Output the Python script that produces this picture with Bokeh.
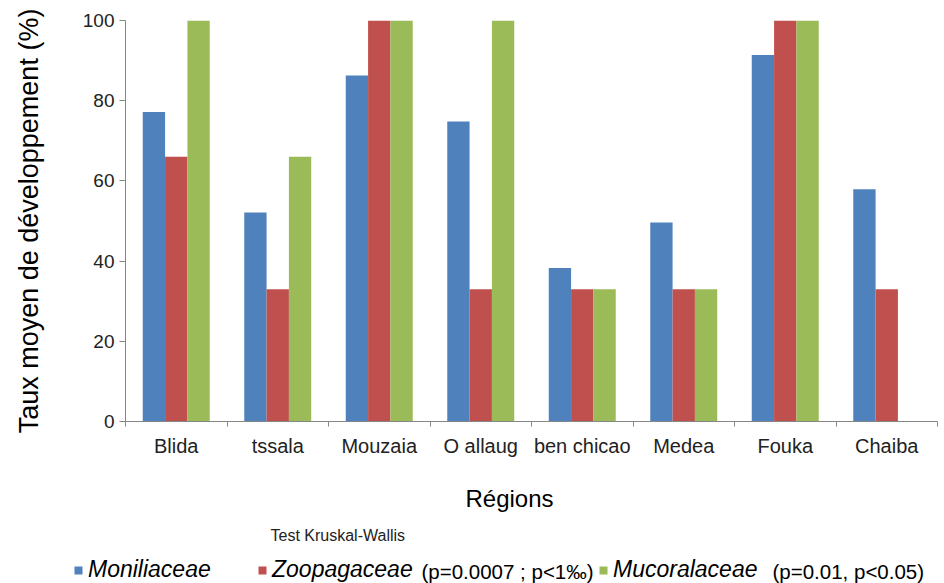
from bokeh.plotting import figure
from bokeh.layouts import column
from bokeh.models import (ColumnDataSource, FixedTicker, Label, Legend, LegendItem,
                          Range1d)
from bokeh.transform import dodge
from bokeh.embed import file_html
from bokeh.resources import INLINE

# Mean development rate (%) per region and fungal family
regions = ["Blida", "tssala", "Mouzaia", "O allaug", "ben chicao", "Medea", "Fouka", "Chaiba"]
moniliaceae = [77.2, 52.1, 86.3, 74.8, 38.3, 49.6, 91.4, 57.9]
zoopagaceae = [66.0, 33.0, 100.0, 33.0, 33.0, 33.0, 100.0, 33.0]
mucoralaceae = [100.0, 66.0, 100.0, 100.0, 33.0, 33.0, 100.0, 0.0]
y_ticks = [0, 20, 40, 60, 80, 100]

families = ["Moniliaceae", "Zoopagaceae", "Mucoralaceae"]
p_values = ["", "(p=0.0007 ; p<1\u2030)", "(p=0.01, p<0.05)"]
colors = ["#4F81BD", "#C0504D", "#9BBB59"]
series = ["moniliaceae", "zoopagaceae", "mucoralaceae"]

FONT = "Liberation Sans"
AXIS_GREY = "#868686"
TEXT = "#222222"

W = 944
MAIN_H = 470
FOOT_H = 113

centers = [i + 0.5 for i in range(len(regions))]
source = ColumnDataSource(dict(x=centers, moniliaceae=moniliaceae,
                               zoopagaceae=zoopagaceae, mucoralaceae=mucoralaceae))


def no_frame_align(fig):
    if "frame_align" in fig.properties():
        fig.frame_align = False


# ---- bar chart ----
p = figure(width=W, height=MAIN_H, output_backend="svg", toolbar_location=None,
           x_range=Range1d(0, len(regions)), y_range=Range1d(0, 100),
           min_border_left=125, min_border_right=7, min_border_top=20,
           min_border_bottom=49)
no_frame_align(p)
p.outline_line_color = None
p.xgrid.grid_line_color = None
p.ygrid.grid_line_color = None

bar_w = 0.22
for k, (col, color) in enumerate(zip(series, colors)):
    p.vbar(x=dodge("x", (k - 1) * bar_w, range=p.x_range), top=col, bottom=0,
           width=bar_w, source=source, fill_color=color, line_color=None)

# x axis: region names at the centres, tick marks at the boundaries
xa = p.xaxis[0]
xa.ticker = FixedTicker(ticks=centers, minor_ticks=list(range(len(regions) + 1)))
xa.major_label_overrides = {c: name for c, name in zip(centers, regions)}
xa.major_tick_line_color = None
xa.major_tick_out = 5
xa.major_tick_in = 0
xa.minor_tick_line_color = AXIS_GREY
xa.minor_tick_out = 5
xa.minor_tick_in = 0
xa.axis_line_color = AXIS_GREY
xa.major_label_standoff = 8
xa.major_label_text_font = FONT
xa.major_label_text_font_size = "20px"
xa.major_label_text_color = TEXT

ya = p.yaxis[0]
ya.ticker = FixedTicker(ticks=y_ticks, minor_ticks=[])
ya.axis_line_color = AXIS_GREY
ya.major_tick_line_color = AXIS_GREY
ya.major_tick_out = 6
ya.major_tick_in = 0
ya.major_label_standoff = 5
ya.major_label_text_font = FONT
ya.major_label_text_font_size = "19px"
ya.major_label_text_color = TEXT
ya.axis_label = "Taux moyen de développement (%)"
ya.axis_label_text_font = FONT
ya.axis_label_text_font_size = "27px"
ya.axis_label_text_font_style = "normal"
ya.axis_label_text_color = "#000000"
ya.axis_label_standoff = 36

# ---- footer: axis title, test note and legend (pixel coordinates) ----
foot = figure(width=W, height=FOOT_H, output_backend="svg", toolbar_location=None,
              x_range=Range1d(0, W), y_range=Range1d(0, FOOT_H),
              x_axis_location=None, y_axis_location=None,
              min_border=0, min_border_left=0, min_border_right=0,
              min_border_top=0, min_border_bottom=0)
no_frame_align(foot)
foot.outline_line_color = None
foot.xgrid.grid_line_color = None
foot.ygrid.grid_line_color = None

foot.add_layout(Label(x=509, y=85, text="Régions", text_font=FONT,
                      text_font_size="24px", text_color="#000000",
                      text_align="center", text_baseline="middle"))
foot.add_layout(Label(x=270, y=48, text="Test Kruskal-Wallis", text_font=FONT,
                      text_font_size="16px", text_color=TEXT,
                      text_align="left", text_baseline="middle"))

# hidden copies of the series supply the legend swatches
legend_x = [73, 257, 598]
pval_x = [None, 421, 772]
for k, (name, col, color) in enumerate(zip(families, series, colors)):
    r = foot.vbar(x="x", top=col, width=bar_w, source=source,
                  fill_color=color, line_color=None, visible=False)
    lg = Legend(items=[LegendItem(label=name, renderers=[r])],
                location=(legend_x[k], 0), orientation="horizontal",
                label_text_font=FONT, label_text_font_size="23px",
                label_text_font_style="italic", label_text_color="#000000",
                glyph_width=10, glyph_height=10, label_standoff=5,
                padding=0, margin=0, border_line_color=None,
                background_fill_alpha=0, label_height=22,
                inactive_fill_alpha=0, click_policy="none")
    foot.add_layout(lg, "center")
    if p_values[k]:
        foot.add_layout(Label(x=pval_x[k], y=12, text=p_values[k], text_font=FONT,
                              text_font_size="20.5px", text_color="#000000",
                              text_align="left", text_baseline="middle"))

open("out.html", "w").write(file_html(column(p, foot, spacing=0), INLINE))
